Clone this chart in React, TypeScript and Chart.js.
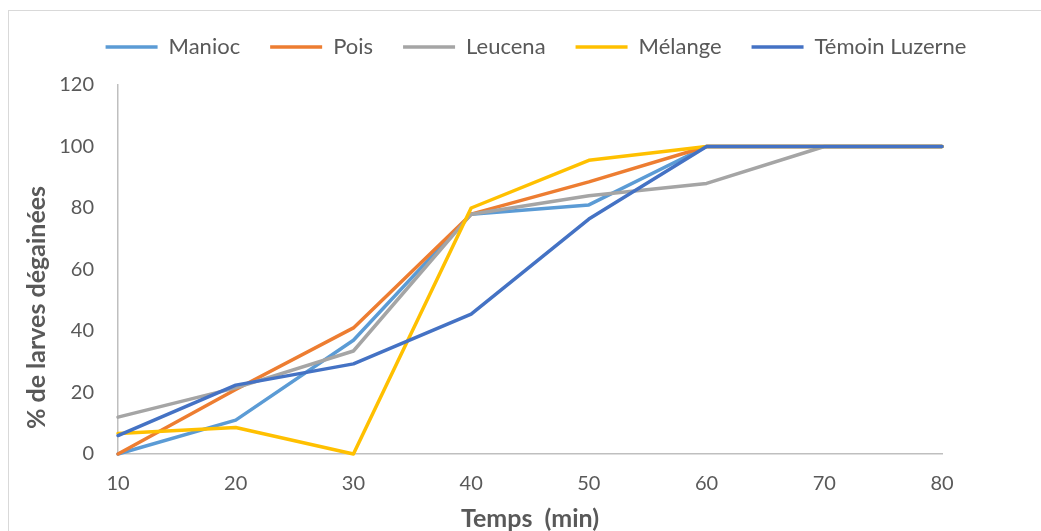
import React, { useEffect, useRef } from "react";
import { Chart, registerables } from "chart.js";

Chart.register(...registerables);

const minutes = [10, 20, 30, 40, 50, 60, 70, 80];
const manioc = [0, 11, 37, 78, 81, 100, 100, 100];
const pois = [0, 21, 41, 78, 88.5, 100, 100, 100];
const leucena = [12, 21.5, 33.5, 78, 84, 88, 100, 100];
const melange = [6.7, 8.6, 0, 80, 95.5, 100, 100, 100];
const temoin = [6, 22.4, 29.3, 45.5, 76.4, 100, 100, 100];

const seriesNames = ["Manioc", "Pois", "Leucena", "Mélange", "Témoin Luzerne"];
const seriesColors = ["#5B9BD5", "#ED7D31", "#A5A5A5", "#FFC000", "#4472C4"];
const seriesValues = [manioc, pois, leucena, melange, temoin];

const xTitle = "Temps  (min)";
const yTitle = "% de larves dégainées";

const FONT = "Lato";
const TEXT = "#595959";

export default function App() {
  const ref = useRef<HTMLCanvasElement | null>(null);

  useEffect(() => {
    if (!ref.current) return;

    const legendSpacer = {
      id: "legendSpacer",
      beforeInit(chart: any) {
        const legend = chart.legend;
        if (!legend) return;
        const fit = legend.fit;
        legend.fit = function () {
          fit.call(this);
          this.height += 17;
        };
      },
    };

    const yTitlePlugin = {
      id: "yTitlePlugin",
      afterDraw(chart: any) {
        const { ctx, chartArea, scales } = chart;
        const x = scales.y.left + 6;
        const y = (chartArea.top + chartArea.bottom) / 2 + 38;
        ctx.save();
        ctx.translate(x, y);
        ctx.rotate(-Math.PI / 2);
        ctx.textAlign = "center";
        ctx.textBaseline = "middle";
        ctx.font = `bold 25px ${FONT}`;
        ctx.fillStyle = TEXT;
        ctx.fillText(yTitle, 0, 0);
        ctx.restore();
      },
    };

    const datasets = seriesNames.map((name, i) => ({
      label: name,
      data: minutes.map((m, j) => ({ x: m, y: seriesValues[i][j] })),
      borderColor: seriesColors[i],
      backgroundColor: seriesColors[i],
      borderWidth: 3.5,
      borderCapStyle: "round" as const,
      borderJoinStyle: "round" as const,
      pointRadius: 0,
      pointHoverRadius: 0,
      tension: 0,
      fill: false,
      clip: false as const,
      order: seriesNames.length - 1 - i,
      pointStyle: "line" as const,
    }));

    const chart = new Chart(ref.current, {
      type: "line",
      data: { datasets },
      options: {
        animation: false,
        responsive: false,
        devicePixelRatio: 1,
        layout: { padding: { left: 31, right: 0, top: 6, bottom: 0 } },
        plugins: {
          legend: {
            display: true,
            position: "top",
            reverse: true,
            labels: {
              usePointStyle: true,
              pointStyleWidth: 52,
              padding: 30,
              color: TEXT,
              font: { family: FONT, size: 22 },
            },
          },
          tooltip: { enabled: false },
        },
        scales: {
          x: {
            type: "linear",
            min: 10,
            max: 80,
            grid: { display: false, drawTicks: false },
            border: { display: true, color: "#BFBFBF", width: 1.5 },
            ticks: {
              stepSize: 10,
              padding: 18,
              color: TEXT,
              font: { family: FONT, size: 20 },
            },
            title: {
              display: true,
              text: xTitle,
              color: TEXT,
              font: { family: FONT, size: 25, weight: "bold", lineHeight: 1 },
              padding: { top: 0, bottom: 0 },
            },
            afterFit: (s: any) => {
              s.height = 77;
            },
          },
          y: {
            type: "linear",
            min: 0,
            max: 120,
            grid: { display: false, drawTicks: false },
            border: { display: true, color: "#BFBFBF", width: 1.5 },
            ticks: {
              stepSize: 20,
              padding: 24,
              color: TEXT,
              font: { family: FONT, size: 20 },
            },
            afterFit: (s: any) => {
              s.width = 87;
            },
          },
          yRight: {
            type: "linear",
            position: "right",
            min: 0,
            max: 1,
            display: true,
            grid: { display: false, drawTicks: false },
            border: { display: false },
            ticks: { display: false },
            afterFit: (s: any) => {
              s.width = 99;
            },
          },
        },
      },
      plugins: [legendSpacer, yTitlePlugin],
    });

    return () => chart.destroy();
  }, []);

  return (
    <div
      style={{
        position: "fixed",
        left: 0,
        top: 0,
        width: 1041,
        height: 531,
        overflow: "hidden",
        background: "#ffffff",
      }}
    >
      <div
        style={{
          position: "absolute",
          left: 8,
          top: 10,
          width: 1100,
          height: 600,
          border: "1px solid #D9D9D9",
        }}
      />
      <canvas
        ref={ref}
        width={1041}
        height={531}
        style={{ position: "absolute", left: 0, top: 0, width: 1041, height: 531 }}
      />
    </div>
  );
}
